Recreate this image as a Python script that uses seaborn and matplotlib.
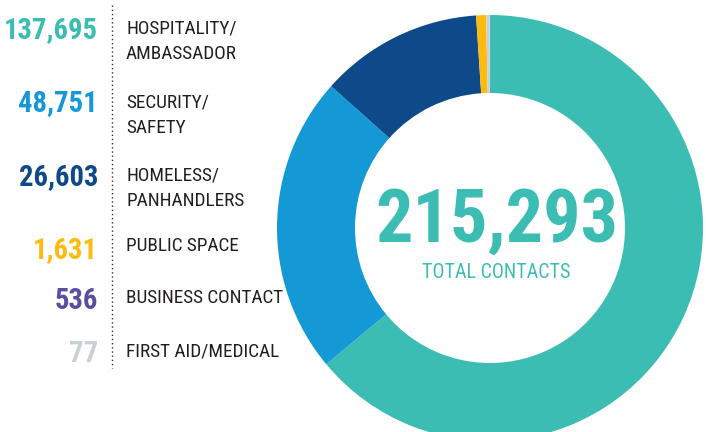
import seaborn as sns
import matplotlib.pyplot as plt
from matplotlib import font_manager

categories = ["HOSPITALITY/\nAMBASSADOR", "SECURITY/\nSAFETY", "HOMELESS/\nPANHANDLERS",
              "PUBLIC SPACE", "BUSINESS CONTACT", "FIRST AID/MEDICAL"]
counts = [137695, 48751, 26603, 1631, 536, 77]
count_labels = ["137,695", "48,751", "26,603", "1,631", "536", "77"]
total_label = "215,293"
colors = ["#3bbdb3", "#1499d6", "#0e4a8a", "#fdbb12", "#5b4ea0", "#c9d0d4"]
# in the ring the two tiny slices both show up light grey
wedge_colors = ["#3bbdb3", "#1499d6", "#0e4a8a", "#fdbb12", "#c9d0d4", "#c9d0d4"]

sns.set_style("white")

# pick a narrow font if one is around
installed = {f.name for f in font_manager.fontManager.ttflist}
condensed = [f.name for f in font_manager.fontManager.ttflist
             if f.stretch in ("condensed", "semi-condensed", "extra-condensed")]
font = "Roboto"
stretch = "normal"
for cand in ["Roboto Condensed", "Liberation Sans Narrow", "Open Sans Condensed",
             "Noto Sans Condensed"]:
    if cand in installed:
        font = cand
        break
else:
    if condensed:
        font = condensed[0]
        stretch = "condensed"
plt.rcParams["font.family"] = [font, "DejaVu Sans"]
palette = sns.color_palette(wedge_colors)

W, H = 706, 432
fig = plt.figure(figsize=(W / 100, H / 100), dpi=100)
ax = fig.add_axes([0, 0, 1, 1])

# donut, pixel coordinates (y flipped)
ax.pie(counts, colors=palette, startangle=90, counterclock=False,
       center=(490, H - 228), radius=213, frame=True,
       wedgeprops=dict(width=213 - 135, linewidth=0))
ax.set_xlim(0, W)
ax.set_ylim(0, H)
ax.set_aspect("equal")
ax.axis("off")

renderer = fig.canvas.get_renderer()
CAP = 0.711  # cap height / em


def fit(texts, ref, target, k=1.0):
    w = ref.get_window_extent(renderer).width
    s = ref.get_fontsize() * target / w * k
    for t in texts:
        t.set_fontsize(s)
    return s


def put(t, cx_y):
    # place baseline so the caps are centred on cx_y (image px from top)
    cap = CAP * t.get_fontsize() * 100 / 72
    x = t.get_position()[0]
    t.set_position((x, H - (cx_y + cap / 2)))


big = ax.text(497, 0, total_label, ha="center", va="baseline", fontsize=60,
              fontweight="bold", color=colors[0], fontstretch=stretch)
sub = ax.text(496, 0, "TOTAL CONTACTS", ha="center", va="baseline", fontsize=15,
              color=colors[0], fontstretch=stretch)
fit([big], big, 225, 1.08)
fit([sub], sub, 135, 1.1)
put(big, 215)
put(sub, 271)

# left legend
num_y = [28, 101, 175, 248, 299, 352]
lab_y = [27, 101, 174, 244, 296, 350]
line_gap = 25
nums, labs = [], []
for ny, ly, num, lab, c in zip(num_y, lab_y, count_labels, categories, colors):
    t = ax.text(98, 0, num, ha="right", va="baseline", fontsize=24,
                fontweight="bold", color=c, fontstretch=stretch)
    nums.append((t, ny))
    for i, line in enumerate(lab.split("\n")):
        t = ax.text(126, 0, line, ha="left", va="baseline", fontsize=15,
                    color="#231f20", fontstretch=stretch)
        labs.append((t, ly + i * line_gap))

fit([t for t, _ in nums], nums[0][0], 80, 1.18)
ref_lab = [t for t, _ in labs if t.get_text() == "BUSINESS CONTACT"][0]
fit([t for t, _ in labs], ref_lab, 141, 1.12)
for t, y in nums + labs:
    put(t, y)

ax.plot([112, 112], [H - 5, H - 368], ls=(0, (1, 2)), color="#333333", lw=1)

fig.savefig("out.png", dpi=100)
